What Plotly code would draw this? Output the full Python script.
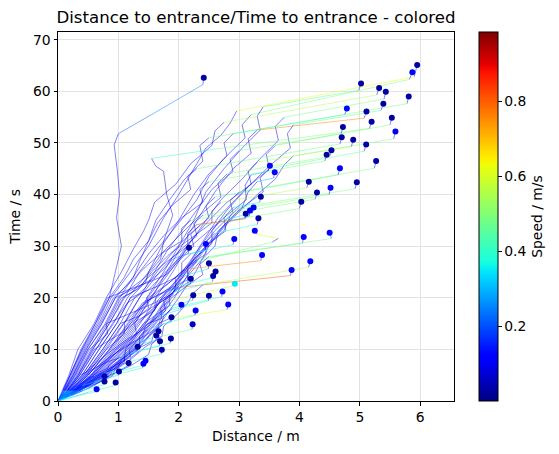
import plotly.graph_objects as go

# ---------------- data (distance / m, time to entrance / s, speed / m/s) ----------------
# Each trajectory: list of [distance, time, speed]; first point = start (dot), its speed colours the dot;
# every later point carries the speed of the segment that ends there.
TRAJECTORIES = [
    [[2.415,62.65,0.03],[2.40,61.3,0.1],[1.55,55.5,0.25],[1.0,51.8,0.2],[0.93,49.6,0.1],[0.98,45.0,0.06],[1.02,40.0,0.08],[0.97,35.5,0.06],[1.05,30.0,0.08],[0.95,25.0,0.08],[0.85,20.0,0.1],[0.62,15.0,0.1],[0.4,10.0,0.1],[0.2,5.0,0.1],[0.08,2.0,0.12],[0,0,0.2]],
    [[5.95,65.1,0.03],[5.90,62.8,0.1],[2.96,56.2,0.62],[2.85,53.8,0.1],[2.7,51.5,0.1],[2.45,49.0,0.12],[2.25,45.0,0.1],[2.0,40.0,0.1],[1.75,35.5,0.1],[1.5,30.0,0.1],[1.2,25.0,0.1],[0.88,20.0,0.1],[0.7,15.5,0.08],[0.42,10.0,0.1],[0.22,5.0,0.1],[0.1,2.0,0.12],[0,0,0.2]],
    [[5.87,63.7,0.12],[5.82,62.3,0.1],[3.2,55.5,0.5],[3.05,53.5,0.1],[3.1,51.0,0.06],[2.75,47.0,0.12],[2.5,43.5,0.1],[2.3,39.0,0.1],[2.0,34.5,0.1],[1.65,29.5,0.1],[1.35,25.0,0.1],[1.1,20.0,0.1],[0.85,15.0,0.1],[0.58,10.0,0.1],[0.33,5.0,0.1],[0.15,2.0,0.12],[0,0,0.2]],
    [[5.02,61.5,0.03],[4.98,60.2,0.1],[3.4,57.0,0.45],[3.3,55.2,0.1],[3.35,52.5,0.06],[3.05,49.0,0.12],[2.75,45.0,0.1],[2.45,40.5,0.1],[2.25,35.0,0.1],[2.0,30.0,0.1],[1.75,25.0,0.1],[1.47,20.0,0.1],[1.5,18.0,0.05],[1.2,15.0,0.1],[0.87,10.0,0.1],[0.5,5.0,0.12],[0.22,2.0,0.15],[0,0,0.25]],
    [[5.32,60.65,0.03],[5.28,59.3,0.1],[2.75,54.0,0.55],[2.6,52.3,0.1],[2.55,49.5,0.06],[2.2,46.0,0.12],[1.95,42.0,0.1],[1.6,38.5,0.1],[1.5,35.0,0.08],[1.42,33.0,0.06],[1.25,29.5,0.1],[1.05,25.0,0.1],[0.8,20.0,0.1],[0.6,15.0,0.1],[0.33,10.0,0.1],[0.18,5.0,0.1],[0.07,2.0,0.12],[0,0,0.2]],
    [[5.43,59.9,0.03],[5.40,58.5,0.1],[3.75,55.0,0.5],[3.6,53.2,0.1],[3.65,50.5,0.06],[3.35,47.0,0.12],[3.05,43.0,0.1],[2.7,39.0,0.1],[2.45,35.0,0.1],[2.15,30.0,0.1],[1.9,25.0,0.1],[1.62,20.0,0.1],[1.6,18.0,0.05],[1.33,15.0,0.1],[1.02,10.0,0.1],[0.6,5.0,0.12],[0.27,2.0,0.15],[0,0,0.25]],
    [[5.81,59.0,0.03],[5.78,57.6,0.1],[2.5,51.0,0.5],[2.35,49.5,0.1],[2.4,46.5,0.06],[2.1,43.0,0.12],[1.85,39.0,0.1],[1.62,35.0,0.1],[1.5,31.0,0.1],[1.35,27.0,0.1],[1.25,24.0,0.08],[0.95,20.0,0.1],[0.73,15.0,0.1],[0.47,10.0,0.1],[0.25,5.0,0.1],[0.11,2.0,0.12],[0,0,0.2]],
    [[4.785,56.7,0.13],[4.75,55.5,0.1],[2.9,51.8,0.42],[2.75,50.0,0.1],[2.8,47.5,0.06],[2.5,44.0,0.12],[2.25,40.0,0.1],[2.0,35.0,0.1],[1.72,30.0,0.1],[1.5,25.0,0.1],[1.45,23.0,0.05],[1.2,20.0,0.1],[0.97,15.0,0.1],[0.68,10.0,0.1],[0.4,5.0,0.12],[0.17,2.0,0.15],[0,0,0.25]],
    [[5.11,56.1,0.03],[5.07,54.8,0.1],[3.3,52.5,0.75],[3.15,50.8,0.1],[3.2,48.0,0.06],[2.9,45.0,0.12],[2.6,40.5,0.1],[2.3,35.0,0.1],[2.05,30.0,0.1],[1.8,25.0,0.1],[1.55,20.0,0.1],[1.27,15.0,0.1],[1.3,13.0,0.05],[0.96,10.0,0.1],[0.57,5.0,0.12],[0.25,2.0,0.15],[0,0,0.25]],
    [[5.39,57.6,0.03],[5.35,56.3,0.1],[3.9,53.5,0.45],[3.8,51.8,0.1],[3.85,49.0,0.06],[3.5,45.5,0.12],[3.1,41.0,0.1],[2.65,35.5,0.1],[2.35,30.0,0.1],[2.1,25.0,0.1],[1.8,20.0,0.1],[1.52,15.0,0.1],[1.18,10.0,0.1],[1.2,8.5,0.05],[0.72,5.0,0.12],[0.32,2.0,0.15],[0,0,0.25]],
    [[5.53,54.9,0.03],[5.50,53.5,0.1],[3.6,49.5,0.5],[3.45,47.8,0.1],[3.5,45.0,0.06],[3.15,41.5,0.12],[2.8,37.0,0.1],[2.55,33.0,0.1],[2.3,29.0,0.1],[2.0,24.0,0.1],[1.72,20.0,0.1],[1.45,15.0,0.1],[1.12,10.0,0.1],[0.68,5.0,0.12],[0.3,2.0,0.15],[0,0,0.25]],
    [[5.195,54.1,0.03],[5.16,52.8,0.1],[2.6,48.8,0.5],[1.55,47.0,0.4],[1.62,45.5,0.1],[1.75,44.5,0.12],[1.8,40.0,0.06],[1.9,36.0,0.08],[1.75,31.0,0.1],[1.7,27.5,0.06],[1.45,24.0,0.1],[1.0,20.0,0.12],[0.78,15.0,0.1],[0.5,10.0,0.1],[0.28,5.0,0.1],[0.12,2.0,0.12],[0,0,0.2]],
    [[4.72,53.1,0.03],[4.69,51.8,0.1],[3.0,48.5,0.5],[2.85,46.8,0.1],[2.9,44.5,0.06],[2.55,41.0,0.12],[2.3,37.0,0.1],[2.05,33.0,0.1],[1.8,29.0,0.1],[1.6,25.0,0.1],[1.35,20.0,0.1],[1.1,15.0,0.1],[1.1,13.0,0.05],[0.8,10.0,0.1],[0.47,5.0,0.12],[0.2,2.0,0.15],[0,0,0.25]],
    [[5.59,52.2,0.1],[5.56,50.8,0.1],[3.9,47.5,0.5],[3.75,45.8,0.1],[3.6,43.0,0.08],[3.3,40.0,0.12],[2.9,35.5,0.1],[2.5,30.5,0.1],[2.2,25.5,0.1],[1.93,20.0,0.1],[1.62,15.0,0.1],[1.27,10.0,0.1],[0.78,5.0,0.12],[0.34,2.0,0.15],[0,0,0.25]],
    [[4.70,51.1,0.03],[4.67,49.8,0.1],[2.3,45.0,0.48],[2.15,43.5,0.1],[2.2,41.0,0.06],[1.9,38.0,0.12],[1.65,34.5,0.1],[1.5,31.0,0.1],[1.25,27.5,0.1],[1.1,24.0,0.1],[0.85,20.0,0.1],[0.65,15.0,0.1],[0.4,10.0,0.1],[0.2,5.0,0.1],[0.08,2.0,0.12],[0,0,0.2]],
    [[4.89,50.6,0.03],[4.86,49.3,0.1],[3.3,46.3,0.55],[3.15,44.5,0.1],[3.2,42.0,0.06],[2.8,38.5,0.12],[2.5,35.0,0.1],[2.2,31.0,0.1],[1.95,27.0,0.1],[1.75,24.0,0.1],[1.48,20.0,0.1],[1.2,15.0,0.1],[0.9,10.0,0.1],[0.54,5.0,0.12],[0.24,2.0,0.15],[0,0,0.25]],
    [[5.105,49.7,0.03],[5.07,48.4,0.1],[3.5,45.0,0.45],[3.35,43.2,0.1],[3.4,40.5,0.06],[3.0,37.0,0.12],[2.7,33.5,0.1],[2.45,30.0,0.1],[2.2,26.0,0.1],[1.92,22.0,0.1],[1.68,19.0,0.1],[1.42,15.0,0.1],[1.07,10.0,0.1],[0.64,5.0,0.12],[0.28,2.0,0.15],[0,0,0.25]],
    [[4.53,48.6,0.03],[4.50,47.4,0.1],[2.8,44.0,0.5],[2.65,42.2,0.1],[2.7,39.5,0.06],[2.35,36.0,0.12],[2.05,32.5,0.1],[1.75,29.0,0.1],[1.5,25.0,0.1],[1.4,23.5,0.06],[1.15,20.0,0.1],[0.92,15.0,0.1],[0.63,10.0,0.1],[0.36,5.0,0.12],[0.16,2.0,0.15],[0,0,0.25]],
    [[4.45,47.7,0.03],[4.42,46.5,0.1],[2.5,42.5,0.5],[2.35,41.0,0.1],[2.4,38.5,0.06],[2.05,35.5,0.12],[1.75,32.0,0.1],[1.5,28.5,0.1],[1.3,25.0,0.1],[1.02,20.0,0.1],[0.8,15.0,0.1],[0.82,13.0,0.05],[0.52,10.0,0.1],[0.29,5.0,0.12],[0.13,2.0,0.15],[0,0,0.25]],
    [[5.27,46.5,0.03],[5.24,45.1,0.1],[3.0,40.5,0.5],[2.85,38.8,0.1],[2.9,36.5,0.06],[2.6,33.0,0.12],[2.35,29.5,0.1],[2.12,25.0,0.1],[1.85,20.0,0.1],[1.57,15.0,0.1],[1.23,10.0,0.1],[0.75,5.0,0.12],[0.33,2.0,0.15],[0,0,0.25]],
    [[4.67,45.1,0.12],[4.64,43.8,0.1],[2.6,39.5,0.45],[2.45,37.8,0.1],[2.5,35.5,0.06],[2.2,32.5,0.12],[1.95,29.5,0.1],[1.7,26.0,0.1],[1.45,22.0,0.1],[1.27,20.0,0.1],[1.03,15.0,0.1],[0.74,10.0,0.1],[0.43,5.0,0.12],[0.19,2.0,0.15],[0,0,0.25]],
    [[4.95,42.4,0.03],[4.92,41.1,0.1],[3.0,37.5,0.5],[2.85,35.8,0.1],[2.75,33.0,0.08],[2.45,30.0,0.12],[2.15,26.0,0.1],[1.92,22.5,0.1],[1.73,20.0,0.1],[1.45,15.0,0.1],[1.12,10.0,0.1],[1.1,8.0,0.05],[0.68,5.0,0.12],[0.3,2.0,0.15],[0,0,0.25]],
    [[3.51,45.6,0.12],[3.48,44.5,0.1],[3.2,43.8,0.3],[3.1,41.8,0.1],[3.12,39.0,0.06],[2.8,36.0,0.12],[2.45,32.5,0.1],[2.1,29.0,0.1],[1.85,25.0,0.1],[1.53,20.0,0.1],[1.27,15.0,0.1],[0.96,10.0,0.1],[0.57,5.0,0.12],[0.25,2.0,0.15],[0,0,0.25]],
    [[3.59,44.3,0.12],[3.57,43.2,0.1],[3.3,42.5,0.3],[3.15,40.5,0.1],[3.05,37.5,0.08],[2.75,34.0,0.12],[2.5,30.0,0.1],[2.28,25.0,0.1],[2.0,20.0,0.1],[1.69,15.0,0.1],[1.33,10.0,0.1],[0.8,5.0,0.12],[0.36,2.0,0.15],[0,0,0.25]],
    [[4.155,42.5,0.03],[4.12,41.3,0.1],[2.7,38.5,0.55],[2.55,36.8,0.1],[2.55,34.5,0.06],[2.2,31.5,0.12],[1.85,28.5,0.1],[1.55,25.0,0.1],[1.35,22.0,0.1],[1.08,20.0,0.1],[0.85,15.0,0.1],[0.57,10.0,0.1],[0.33,5.0,0.12],[0.15,2.0,0.15],[0,0,0.25]],
    [[4.29,40.4,0.03],[4.26,39.1,0.1],[2.2,35.0,0.5],[2.05,33.5,0.1],[2.05,31.0,0.06],[1.7,28.5,0.12],[1.45,26.0,0.1],[1.2,23.0,0.1],[0.92,20.0,0.1],[0.7,15.0,0.1],[0.44,10.0,0.1],[0.24,5.0,0.1],[0.1,2.0,0.12],[0,0,0.2]],
    [[3.36,39.6,0.03],[3.34,38.5,0.1],[2.9,37.5,0.35],[2.75,35.5,0.1],[2.78,33.0,0.06],[2.45,30.0,0.12],[2.15,26.0,0.1],[1.9,22.5,0.1],[1.63,20.0,0.1],[1.36,15.0,0.1],[1.05,10.0,0.1],[0.62,5.0,0.12],[0.27,2.0,0.15],[0,0,0.25]],
    [[4.03,38.6,0.03],[4.00,37.3,0.1],[2.35,34.0,0.5],[2.2,32.3,0.1],[2.25,30.0,0.06],[1.95,27.0,0.12],[1.7,24.0,0.1],[1.5,21.5,0.1],[1.2,20.0,0.1],[0.97,15.0,0.1],[0.68,10.0,0.1],[0.4,5.0,0.12],[0.17,2.0,0.15],[0,0,0.25]],
    [[3.24,37.5,0.1],[3.22,36.4,0.1],[2.7,35.0,0.35],[2.55,33.0,0.1],[2.55,30.5,0.06],[2.25,27.5,0.12],[1.95,24.0,0.1],[1.65,21.0,0.1],[1.4,18.5,0.1],[1.17,15.0,0.1],[0.85,10.0,0.1],[0.5,5.0,0.12],[0.22,2.0,0.15],[0,0,0.25]],
    [[3.18,36.9,0.1],[3.17,35.8,0.1],[2.8,34.6,0.3],[2.65,32.8,0.1],[2.6,30.0,0.08],[2.35,27.0,0.12],[2.1,23.5,0.1],[1.82,20.0,0.1],[1.54,15.0,0.1],[1.2,10.0,0.1],[0.73,5.0,0.12],[0.32,2.0,0.15],[0,0,0.25]],
    [[3.11,36.3,0.03],[3.10,35.3,0.1],[2.3,34.2,0.85],[2.15,32.5,0.1],[2.15,30.0,0.06],[1.8,27.0,0.12],[1.5,24.0,0.1],[1.3,21.5,0.1],[1.05,20.0,0.1],[0.82,15.0,0.1],[0.55,10.0,0.1],[0.31,5.0,0.12],[0.14,2.0,0.15],[0,0,0.25]],
    [[3.32,35.4,0.03],[3.30,34.2,0.1],[2.6,32.5,0.4],[2.45,30.8,0.1],[2.45,28.5,0.06],[2.15,26.0,0.12],[1.85,23.0,0.1],[1.5,20.0,0.1],[1.24,15.0,0.1],[0.93,10.0,0.1],[0.55,5.0,0.12],[0.24,2.0,0.15],[0,0,0.25]],
    [[3.26,33.0,0.12],[3.30,32.3,0.1],[3.65,31.5,0.6],[3.55,30.8,0.1],[2.3,27.0,0.5],[2.15,25.5,0.1],[2.15,23.0,0.06],[1.85,20.5,0.12],[1.58,18.0,0.1],[1.3,15.0,0.1],[0.99,10.0,0.1],[0.59,5.0,0.12],[0.26,2.0,0.15],[0,0,0.25]],
    [[4.07,31.8,0.12],[4.05,30.6,0.1],[2.5,28.0,0.45],[2.35,26.5,0.1],[2.4,24.5,0.06],[2.1,22.0,0.12],[1.88,20.0,0.1],[1.6,15.0,0.1],[1.26,10.0,0.1],[0.76,5.0,0.12],[0.33,2.0,0.15],[0,0,0.25]],
    [[4.50,32.6,0.12],[4.53,31.5,0.1],[2.3,27.5,0.5],[2.15,26.0,0.1],[2.15,23.5,0.06],[1.8,21.5,0.12],[1.5,19.5,0.1],[1.25,17.0,0.1],[1.08,15.0,0.1],[0.77,10.0,0.1],[0.45,5.0,0.12],[0.2,2.0,0.15],[0,0,0.25]],
    [[2.92,31.4,0.12],[2.90,30.3,0.1],[2.2,28.5,0.4],[2.05,26.8,0.1],[2.05,24.5,0.06],[1.7,22.5,0.12],[1.4,21.0,0.1],[1.15,19.0,0.1],[0.9,15.0,0.1],[0.63,10.0,0.1],[0.36,5.0,0.12],[0.16,2.0,0.15],[0,0,0.25]],
    [[2.45,30.4,0.12],[2.44,29.3,0.1],[2.1,28.3,0.3],[1.95,26.5,0.1],[1.8,24.5,0.08],[1.5,23.0,0.12],[1.15,21.5,0.1],[0.82,20.0,0.12],[0.62,15.0,0.1],[0.38,10.0,0.1],[0.2,5.0,0.1],[0.09,2.0,0.12],[0,0,0.2]],
    [[3.38,28.3,0.12],[3.36,27.2,0.1],[2.1,25.5,0.75],[1.95,24.0,0.1],[1.95,22.0,0.06],[1.65,20.5,0.12],[1.4,19.0,0.1],[1.15,15.0,0.1],[0.85,10.0,0.1],[0.5,5.0,0.12],[0.22,2.0,0.15],[0,0,0.25]],
    [[4.18,27.1,0.12],[4.15,25.9,0.1],[2.4,22.5,0.55],[2.25,21.0,0.1],[2.15,19.0,0.08],[1.95,16.5,0.12],[1.66,15.0,0.1],[1.32,10.0,0.1],[0.8,5.0,0.12],[0.35,2.0,0.15],[0,0,0.25]],
    [[2.50,26.7,0.03],[2.49,25.6,0.1],[2.1,24.3,0.35],[1.95,22.5,0.1],[1.9,20.5,0.06],[1.6,18.5,0.12],[1.35,16.5,0.1],[1.03,15.0,0.12],[0.74,10.0,0.1],[0.43,5.0,0.12],[0.19,2.0,0.15],[0,0,0.25]],
    [[3.87,25.4,0.12],[3.85,24.3,0.1],[2.0,22.0,0.8],[1.85,20.5,0.1],[1.85,18.5,0.06],[1.6,16.5,0.12],[1.42,15.0,0.1],[1.1,10.0,0.1],[0.66,5.0,0.12],[0.29,2.0,0.15],[0,0,0.25]],
    [[2.61,25.1,0.03],[2.60,24.0,0.1],[2.0,22.3,0.4],[1.85,20.5,0.1],[1.6,19.0,0.1],[1.3,17.5,0.12],[1.0,16.0,0.12],[0.8,15.0,0.1],[0.49,10.0,0.1],[0.27,5.0,0.12],[0.12,2.0,0.15],[0,0,0.25]],
    [[2.57,24.2,0.03],[2.56,23.1,0.1],[1.9,21.0,0.4],[1.75,19.5,0.1],[1.78,17.5,0.06],[1.45,14.5,0.12],[1.02,10.0,0.1],[0.6,5.0,0.12],[0.27,2.0,0.15],[0,0,0.25]],
    [[4.515,41.3,0.12],[4.49,40.0,0.1],[2.4,36.0,0.5],[2.25,34.5,0.1],[2.3,32.0,0.06],[2.0,29.0,0.12],[1.75,26.0,0.1],[1.55,23.0,0.1],[1.35,20.0,0.1],[1.09,15.0,0.1],[0.8,10.0,0.1],[0.47,5.0,0.12],[0.2,2.0,0.15],[0,0,0.25]],
    [[2.20,23.7,0.03],[2.19,22.6,0.1],[1.8,21.2,0.3],[1.65,19.5,0.1],[1.6,17.5,0.06],[1.3,15.5,0.12],[1.1,13.5,0.1],[0.6,10.0,0.12],[0.34,5.0,0.12],[0.15,2.0,0.15],[0,0,0.25]],
    [[2.93,22.7,0.35],[2.90,22.3,0.2],[1.85,19.5,0.55],[1.7,18.0,0.1],[1.72,16.0,0.06],[1.48,15.0,0.12],[1.15,10.0,0.1],[0.69,5.0,0.12],[0.3,2.0,0.15],[0,0,0.25]],
    [[2.725,21.2,0.12],[2.71,20.2,0.1],[1.9,18.0,0.4],[1.75,16.5,0.1],[1.7,14.5,0.06],[1.35,12.0,0.12],[0.92,9.0,0.12],[0.54,5.0,0.12],[0.24,2.0,0.15],[0,0,0.25]],
    [[2.24,20.5,0.03],[2.23,19.5,0.1],[1.8,18.3,0.35],[1.65,16.5,0.1],[1.5,14.5,0.08],[1.15,12.0,0.12],[0.8,9.0,0.12],[0.4,5.0,0.12],[0.17,2.0,0.15],[0,0,0.25]],
    [[2.50,20.4,0.03],[2.49,19.4,0.1],[1.85,17.5,0.4],[1.7,16.0,0.1],[1.65,14.0,0.06],[1.45,12.0,0.12],[1.24,10.0,0.1],[0.75,5.0,0.12],[0.33,2.0,0.15],[0,0,0.25]],
    [[2.82,18.7,0.12],[2.80,17.7,0.1],[1.9,16.0,0.6],[1.75,14.5,0.1],[1.72,12.5,0.06],[1.45,10.5,0.12],[1.2,8.0,0.1],[0.82,5.0,0.12],[0.36,2.0,0.15],[0,0,0.25]],
    [[2.28,17.55,0.12],[2.27,16.6,0.1],[1.75,15.0,0.4],[1.6,13.5,0.1],[1.55,11.5,0.06],[1.3,10.0,0.12],[1.05,7.5,0.1],[0.64,5.0,0.12],[0.28,2.0,0.15],[0,0,0.25]],
    [[2.23,14.85,0.05],[2.22,13.9,0.1],[1.7,12.5,0.45],[1.55,11.0,0.1],[1.5,9.0,0.06],[1.2,6.8,0.12],[0.95,5.5,0.15],[0.6,3.5,0.15],[0.34,2.0,0.15],[0,0,0.25]],
    [[2.045,18.65,0.1],[2.03,17.7,0.1],[1.6,16.3,0.35],[1.45,14.5,0.1],[1.4,12.5,0.06],[1.1,10.5,0.12],[0.8,8.0,0.12],[0.47,5.0,0.12],[0.2,2.0,0.15],[0,0,0.25]],
    [[1.88,16.25,0.03],[1.87,15.3,0.1],[1.5,14.0,0.35],[1.35,12.5,0.1],[1.35,10.5,0.06],[1.1,8.5,0.12],[0.85,6.5,0.12],[0.57,5.0,0.15],[0.25,2.0,0.15],[0,0,0.25]],
    [[1.665,13.5,0.03],[1.66,12.6,0.1],[1.3,11.4,0.35],[1.15,10.0,0.1],[1.05,8.5,0.08],[0.8,7.5,0.12],[0.55,6.0,0.12],[0.36,5.0,0.15],[0.16,2.0,0.15],[0,0,0.25]],
    [[1.63,12.7,0.03],[1.62,11.8,0.1],[1.25,10.6,0.35],[1.1,9.0,0.1],[1.1,7.5,0.06],[0.9,6.0,0.12],[0.68,5.0,0.15],[0.3,2.0,0.15],[0,0,0.25]],
    [[1.69,11.6,0.03],[1.68,10.7,0.1],[1.2,9.3,0.4],[1.05,8.0,0.1],[1.0,6.5,0.06],[0.75,5.2,0.12],[0.5,3.5,0.15],[0.24,2.0,0.15],[0,0,0.25]],
    [[1.87,12.1,0.03],[1.86,11.2,0.1],[1.35,9.7,0.4],[1.2,8.3,0.1],[1.15,6.8,0.06],[0.92,5.2,0.12],[0.6,3.3,0.15],[0.33,2.0,0.2],[0,0,0.25]],
    [[1.72,9.95,0.05],[1.71,9.1,0.1],[1.1,7.4,0.4],[0.95,6.2,0.1],[0.9,4.8,0.06],[0.65,3.4,0.15],[0.31,2.0,0.2],[0,0,0.25]],
    [[1.32,10.5,0.03],[1.31,9.6,0.1],[1.0,8.3,0.3],[0.85,7.0,0.1],[0.8,5.8,0.06],[0.55,4.5,0.12],[0.35,3.2,0.12],[0.19,2.0,0.15],[0,0,0.25]],
    [[1.45,7.8,0.12],[1.44,7.0,0.1],[0.9,5.4,0.4],[0.78,4.4,0.1],[0.6,3.0,0.15],[0.3,1.4,0.2],[0.05,0.3,0.25],[0,0,0.3]],
    [[1.415,7.2,0.12],[1.40,6.4,0.1],[0.85,4.8,0.4],[0.7,3.8,0.12],[0.5,2.5,0.15],[0.2,0.9,0.25],[0,0,0.3]],
    [[1.17,7.35,0.03],[1.16,6.6,0.1],[0.75,5.3,0.35],[0.62,4.3,0.1],[0.45,3.0,0.12],[0.22,1.4,0.2],[0,0,0.3]],
    [[1.01,5.7,0.03],[1.00,5.0,0.1],[0.6,3.7,0.35],[0.45,2.7,0.12],[0.25,1.4,0.2],[0.05,0.3,0.25],[0,0,0.3]],
    [[0.77,4.8,0.05],[0.76,4.2,0.1],[0.4,3.0,0.35],[0.28,2.0,0.12],[0.12,0.8,0.2],[0,0,0.3]],
    [[0.77,3.8,0.03],[0.76,3.2,0.1],[0.4,2.0,0.35],[0.22,1.1,0.2],[0,0,0.3]],
    [[0.955,3.6,0.03],[0.94,3.0,0.1],[0.5,1.7,0.4],[0.25,0.8,0.3],[0,0,0.35]],
    [[0.64,2.3,0.12],[0.63,1.8,0.1],[0.3,0.9,0.4],[0,0,0.4]],
    [[2.17,29.7,0.03],[2.16,28.6,0.1],[1.9,27.5,0.25],[1.75,25.5,0.1],[1.55,23.5,0.1],[1.3,22.0,0.12],[0.95,20.0,0.12],[0.72,15.0,0.1],[0.46,10.0,0.1],[0.25,5.0,0.1],[0.11,2.0,0.12],[0,0,0.2]],
]

X_TICKS = [0, 1, 2, 3, 4, 5, 6]
Y_TICKS = [0, 10, 20, 30, 40, 50, 60, 70]
CB_TICKS = [0.2, 0.4, 0.6, 0.8]
SPEED_MIN, SPEED_MAX = 0.0, 0.985

TITLE = "Distance to entrance/Time to entrance - colored"
X_LABEL = "Distance / m"
Y_LABEL = "Time / s"
CB_LABEL = "Speed / m/s"


# ---------------- matplotlib "jet" colormap ----------------
def _interp(x, xs, ys):
    for i in range(len(xs) - 1):
        if xs[i] <= x <= xs[i + 1]:
            f = (x - xs[i]) / (xs[i + 1] - xs[i]) if xs[i + 1] > xs[i] else 0
            return ys[i] + f * (ys[i + 1] - ys[i])
    return ys[-1] if x > xs[-1] else ys[0]


def jet(x):
    x = min(max(x, 0.0), 1.0)
    r = _interp(x, [0, 0.35, 0.66, 0.89, 1], [0, 0, 1, 1, 0.5])
    g = _interp(x, [0, 0.125, 0.375, 0.64, 0.91, 1], [0, 0, 1, 1, 0, 0])
    b = _interp(x, [0, 0.11, 0.34, 0.65, 1], [0.5, 1, 1, 0, 0])
    return int(round(r * 255)), int(round(g * 255)), int(round(b * 255))


JET_SCALE = [[i / 100, "rgb(%d,%d,%d)" % jet(i / 100)] for i in range(101)]
NBINS = 48
FONT = "DejaVu Sans"

fig = go.Figure()

# trajectory lines, coloured by speed (one trace per trajectory and colour bin)
for tr in TRAJECTORIES:
    groups = {}
    for p0, p1 in zip(tr[:-1], tr[1:]):
        v = (p1[2] - SPEED_MIN) / (SPEED_MAX - SPEED_MIN)
        k = int(round(min(max(v, 0), 1) * NBINS))
        xs, ys = groups.setdefault(k, ([], []))
        xs.extend([p0[0], p1[0], None])
        ys.extend([p0[1], p1[1], None])
    for k, (xs, ys) in groups.items():
        r, g, b = jet(k / NBINS)
        fig.add_trace(go.Scatter(
            x=xs, y=ys, mode="lines",
            line=dict(color="rgba(%d,%d,%d,0.55)" % (r, g, b), width=0.9),
            hoverinfo="skip", showlegend=False))

# start points
fig.add_trace(go.Scatter(
    x=[tr[0][0] for tr in TRAJECTORIES],
    y=[tr[0][1] for tr in TRAJECTORIES],
    mode="markers",
    marker=dict(
        size=6, color=[tr[0][2] for tr in TRAJECTORIES],
        colorscale=JET_SCALE, cmin=SPEED_MIN, cmax=SPEED_MAX,
        line=dict(width=0),
        colorbar=dict(
            x=1.063, xanchor="left", xpad=0, y=0.5, yanchor="middle", ypad=0,
            len=1, lenmode="fraction", thickness=19,
            outlinewidth=1, outlinecolor="black",
            tickvals=CB_TICKS, ticktext=["0.2", "0.4", "0.6", "0.8"],
            ticks="outside", ticklen=3.5, tickwidth=0.8, tickcolor="black",
            tickfont=dict(family=FONT, size=13.9, color="black"),
            title=dict(text=CB_LABEL, side="right",
                       font=dict(family=FONT, size=13.9, color="black")),
        ),
    ),
    hoverinfo="skip", showlegend=False))

axis_common = dict(
    showline=True, linecolor="black", linewidth=1, mirror=True,
    ticks="outside", ticklen=3.5, tickwidth=0.8, tickcolor="black",
    showgrid=True, gridcolor="#e3e3e3", gridwidth=0.8, zeroline=False,
    tickfont=dict(family=FONT, size=13.9, color="black"),
)

fig.update_layout(
    width=559, height=454,
    margin=dict(l=58, r=105, t=32, b=53),
    paper_bgcolor="white", plot_bgcolor="white",
    font=dict(family=FONT, size=13.9, color="black"),
    title=dict(text=TITLE, x=0.5, xref="paper", xanchor="center",
               y=1 - 17 / 454, yref="container", yanchor="middle",
               font=dict(family=FONT, size=16.6, color="black")),
    xaxis=dict(range=[0, 6.56], tickvals=X_TICKS,
               title=dict(text=X_LABEL, standoff=7,
                          font=dict(family=FONT, size=13.9, color="black")),
               **axis_common),
    yaxis=dict(range=[0, 71.5], tickvals=Y_TICKS,
               title=dict(text=Y_LABEL, standoff=9,
                          font=dict(family=FONT, size=13.9, color="black")),
               **axis_common),
)

fig.write_html("out.html")
